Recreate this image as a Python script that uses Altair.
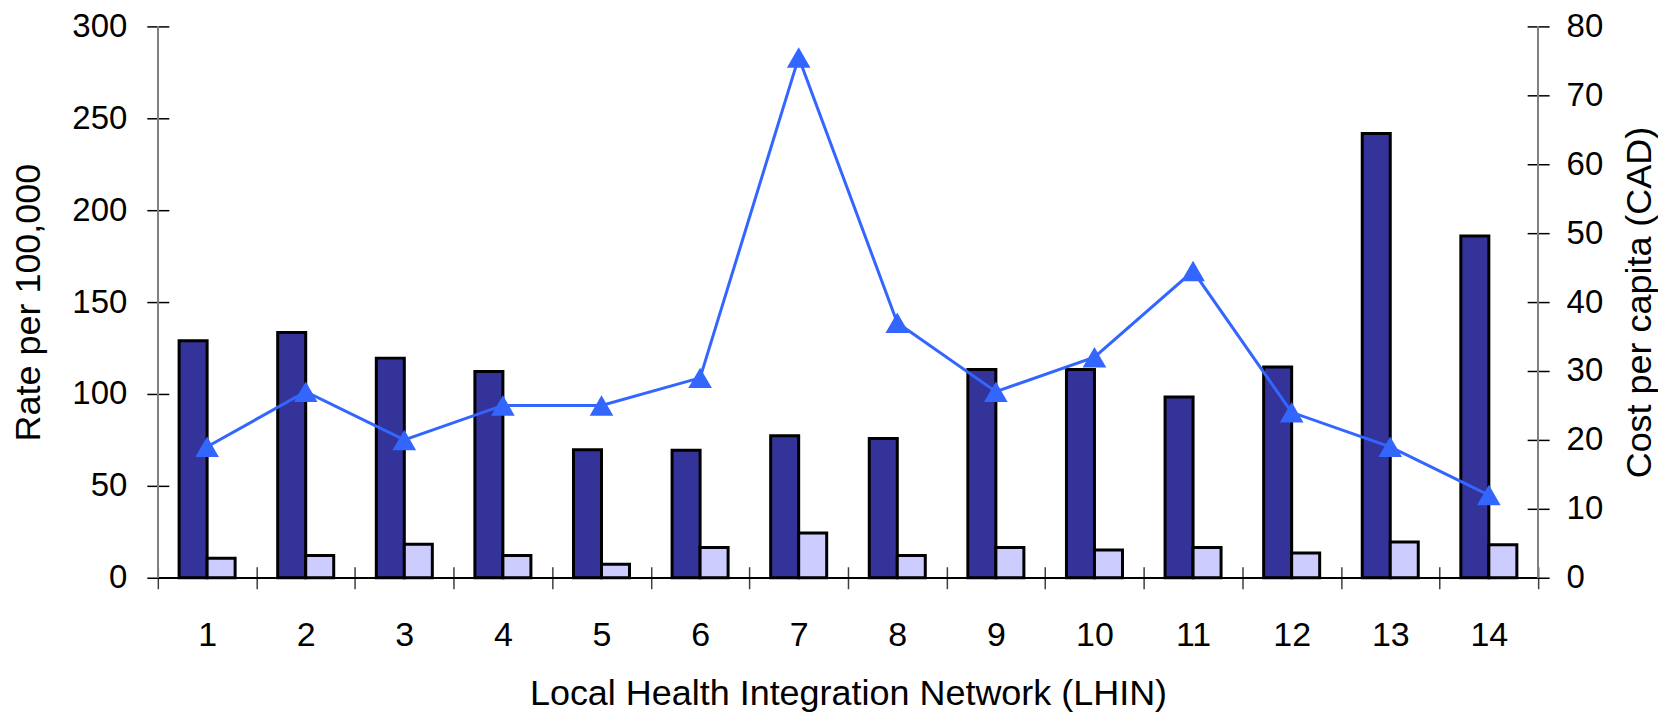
import altair as alt
import pandas as pd

# ---- data ----
lhin = [str(i) for i in range(1, 15)]
rate_dark = [128.9, 133.4, 119.5, 112.2, 69.6, 69.4, 77.2, 75.7, 113.3, 113.3, 98.4, 114.7, 241.7, 186.0]
rate_light = [10.6, 12.1, 18.2, 12.1, 7.4, 16.5, 24.3, 12.1, 16.5, 15.1, 16.5, 13.5, 19.4, 18.0]
cost = [19, 27, 20, 25, 25, 29, 75.5, 37, 27, 32, 44.5, 24, 19, 12]
series_names = ["Rate A", "Rate B"]
series_colors = ["#333399", "#CCCCFF"]
left_ticks = [0, 50, 100, 150, 200, 250, 300]
right_ticks = [0, 10, 20, 30, 40, 50, 60, 70, 80]

bar_df = pd.DataFrame({
    "lhin": lhin * 2,
    "series": [series_names[0]] * len(lhin) + [series_names[1]] * len(lhin),
    "value": rate_dark + rate_light,
})
line_df = pd.DataFrame({"lhin": lhin, "cost": cost})

W, H = 1382, 552
FONT = "Liberation Sans"

x_enc = alt.X(
    "lhin:N", sort=lhin,
    scale=alt.Scale(paddingInner=0, paddingOuter=0),
    axis=alt.Axis(
        title="Local Health Integration Network (LHIN)",
        labelAngle=0, labelFontSize=34, labelColor="black", labelPadding=30,
        tickBand="extent", tickSize=22, offset=-11, tickColor="#404040", tickWidth=1.5,
        domain=False, titleFontSize=36, titleFontWeight="normal", titleColor="black",
        titleY=110, titleBaseline="top",
    ),
)

bars = alt.Chart(bar_df).mark_bar(stroke="black", strokeWidth=3).encode(
    x=x_enc,
    xOffset=alt.XOffset("series:N", sort=series_names,
                        scale=alt.Scale(paddingInner=0, paddingOuter=0.76)),
    y=alt.Y("value:Q", scale=alt.Scale(domain=[0, 300], nice=False),
            axis=alt.Axis(
                title="Rate per 100,000", values=left_ticks, grid=False,
                labelFontSize=33, labelColor="black", labelPadding=20,
                tickSize=22, offset=-11, tickColor="black", tickWidth=1.5,
                domain=False, titleFontSize=36, titleFontWeight="normal",
                titleColor="black", titleAngle=270, titleX=-121, titleY=H / 2,
                titleBaseline="bottom", titleAlign="center",
            )),
    fill=alt.Fill("series:N", sort=series_names,
                  scale=alt.Scale(domain=series_names, range=series_colors), legend=None),
)

baseline = alt.Chart(line_df).mark_rule(color="black", strokeWidth=1.5).encode(
    y=alt.datum(0)
)
left_domain = alt.Chart(line_df).mark_rule(color="#808080", strokeWidth=1.5).encode(
    x=alt.value(0), y=alt.datum(0), y2=alt.datum(300)
)
right_domain = alt.Chart(line_df).mark_rule(color="#808080", strokeWidth=1.5).encode(
    x=alt.value(W), y=alt.datum(0), y2=alt.datum(300)
)

left_layer = alt.layer(bars, baseline, left_domain, right_domain)

y_right = alt.Y("cost:Q", scale=alt.Scale(domain=[0, 80], nice=False),
                axis=alt.Axis(
                    orient="right", title="Cost per capita (CAD)", values=right_ticks,
                    grid=False, labelFontSize=33, labelColor="black", labelPadding=17,
                    tickSize=22, offset=-11, tickColor="black", tickWidth=1.5,
                    domain=False, titleFontSize=36, titleFontWeight="normal",
                    titleColor="black", titleAngle=270, titleX=95, titleY=H / 2,
                    titleBaseline="top", titleAlign="center",
                ))

line = alt.Chart(line_df).mark_line(color="#3366FF", strokeWidth=3).encode(
    x=x_enc, y=y_right
)
points = alt.Chart(line_df).mark_point(
    shape="triangle-up", filled=True, size=560, color="#3366FF", opacity=1
).encode(x=x_enc, y=y_right)

right_layer = alt.layer(line, points)

chart = alt.layer(left_layer, right_layer).resolve_scale(y="independent").properties(
    width=W, height=H,
    autosize=alt.AutoSizeParams(type="none"),
    padding={"left": 150, "top": 18, "right": 120, "bottom": 138},
).configure(font=FONT).configure_view(stroke=None)

chart.save("out.html", embed_options={"renderer": "svg", "actions": False})
